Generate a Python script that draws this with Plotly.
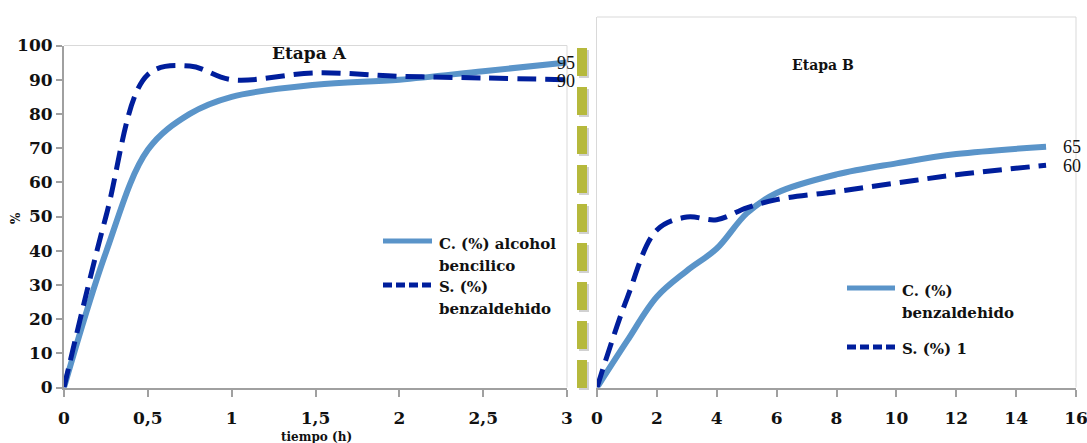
import plotly.graph_objects as go

# ---------------- data ----------------
t_A = [0, 0.25, 0.5, 0.75, 1, 1.5, 2, 2.5, 3]
conv_A = [0, 39.5, 69.5, 80, 85, 88.5, 90, 92.5, 95]
sel_A = [0, 50, 91.5, 94, 90, 92, 91, 90.5, 90]

t_B = [0, 1, 2, 3, 4, 5, 6, 8, 10, 12, 15]
conv_B = [0, 12.5, 24.5, 31.5, 37.5, 47, 52.5, 57.5, 60.5, 63, 65]
sel_B = [0, 24, 42.5, 46, 45.3, 48.5, 50.7, 52.9, 55.2, 57.4, 60]

xticks_A = [0, 0.5, 1, 1.5, 2, 2.5, 3]
xticks_B = [0, 2, 4, 6, 8, 10, 12, 14, 16]
yticks_A = [0, 10, 20, 30, 40, 50, 60, 70, 80, 90, 100]

name_CA = "C. (%) alcohol bencilico"
name_SA = "S. (%) benzaldehido"
name_CB = "C. (%) benzaldehido"
name_SB = "S. (%) 1"

# ---------------- styling ----------------
W, H = 1087, 443
C_COL = "#5a94c9"
S_COL = "#001e9c"
AX_COL = "#a0a0a0"
BORDER = "#d9d9d9"
OLIVE = "#b6b93c"
SERIF = "DejaVu Serif"


def px(x):
    return x / W


def py(y):
    return 1 - y / H


fig = go.Figure()

fig.add_trace(go.Scatter(x=t_A, y=conv_A, mode="lines", name=name_CA,
                         line=dict(color=C_COL, width=6, shape="spline", smoothing=1),
                         xaxis="x", yaxis="y", showlegend=False))
fig.add_trace(go.Scatter(x=t_A, y=sel_A, mode="lines", name=name_SA,
                         line=dict(color=S_COL, width=5, dash="19px,9px", shape="spline", smoothing=1),
                         xaxis="x", yaxis="y", showlegend=False))
fig.add_trace(go.Scatter(x=t_B, y=conv_B, mode="lines", name=name_CB,
                         line=dict(color=C_COL, width=6, shape="spline", smoothing=1),
                         xaxis="x2", yaxis="y2", showlegend=False))
fig.add_trace(go.Scatter(x=t_B, y=sel_B, mode="lines", name=name_SB,
                         line=dict(color=S_COL, width=5, dash="19px,9px", shape="spline", smoothing=1),
                         xaxis="x2", yaxis="y2", showlegend=False))

tickfont = dict(family=SERIF, size=17, color="#111111", weight="bold")
ydom = [py(387.5), py(45.5)]
ydom2 = [py(387.5), py(17)]

fig.update_layout(
    width=W, height=H,
    margin=dict(l=0, r=0, t=0, b=0, pad=0, autoexpand=False),
    paper_bgcolor="white", plot_bgcolor="white",
    separators=",.",
    showlegend=False,
    xaxis=dict(domain=[px(64), px(567)], range=[0, 3], tickvals=xticks_A,
               ticks="outside", ticklen=7, tickwidth=2, tickcolor=AX_COL,
               showline=True, linecolor=AX_COL, linewidth=2,
               showgrid=False, zeroline=False, tickfont=tickfont,
               ticklabelstandoff=7, ticklabeloverflow="allow",
               anchor="y", automargin=False),
    yaxis=dict(domain=ydom, range=[0, 100], tickvals=yticks_A,
               ticks="outside", ticklen=6, tickwidth=2, tickcolor=AX_COL,
               showline=True, linecolor=AX_COL, linewidth=2,
               showgrid=False, zeroline=False, tickfont=tickfont, anchor="x",
               ticklabeloverflow="allow", automargin=False),
    xaxis2=dict(domain=[px(597), px(1076)], range=[0, 16], tickvals=xticks_B,
                ticks="outside", ticklen=7, tickwidth=2, tickcolor=AX_COL,
                showline=True, linecolor=AX_COL, linewidth=2,
                showgrid=False, zeroline=False, tickfont=tickfont,
                ticklabelstandoff=7, ticklabeloverflow="allow",
                anchor="y2", automargin=False),
    yaxis2=dict(domain=ydom2, range=[0, 100], showticklabels=False, ticks="",
                showline=True, linecolor=BORDER, linewidth=1,
                showgrid=False, zeroline=False, anchor="x2", automargin=False),
)

shapes = []
# light frame borders
shapes += [
    dict(type="line", xref="paper", yref="paper", x0=px(64), x1=px(567), y0=py(45.5), y1=py(45.5),
         line=dict(color=BORDER, width=1)),
    dict(type="line", xref="paper", yref="paper", x0=px(567), x1=px(567), y0=py(45.5), y1=py(387.5),
         line=dict(color=BORDER, width=1)),
    dict(type="line", xref="paper", yref="paper", x0=px(597), x1=px(1076), y0=py(17), y1=py(17),
         line=dict(color=BORDER, width=1)),
    dict(type="line", xref="paper", yref="paper", x0=px(1076), x1=px(1076), y0=py(17), y1=py(387.5),
         line=dict(color=BORDER, width=1)),
]
# olive dashed separator with soft shadow
shapes += [
    dict(type="line", xref="paper", yref="paper", x0=px(584), x1=px(584), y0=py(50), y1=py(390),
         line=dict(color="rgba(0,0,0,0.18)", width=10, dash="28px,11px")),
    dict(type="line", xref="paper", yref="paper", x0=px(582), x1=px(582), y0=py(48), y1=py(388),
         line=dict(color=OLIVE, width=10, dash="28px,11px")),
]
# legend samples
shapes += [
    dict(type="line", xref="paper", yref="paper", x0=px(383), x1=px(432), y0=py(241), y1=py(241),
         line=dict(color=C_COL, width=5)),
    dict(type="line", xref="paper", yref="paper", x0=px(383), x1=px(432), y0=py(285), y1=py(285),
         line=dict(color=S_COL, width=5, dash="9px,4px")),
    dict(type="line", xref="paper", yref="paper", x0=px(847), x1=px(895), y0=py(288), y1=py(288),
         line=dict(color=C_COL, width=5)),
    dict(type="line", xref="paper", yref="paper", x0=px(847), x1=px(895), y0=py(347), y1=py(347),
         line=dict(color=S_COL, width=5, dash="9px,4px")),
]
fig.update_layout(shapes=shapes)

annots = []


def txt(text, x, y, size, bold=True, xanchor="center", angle=0, family=SERIF):
    annots.append(dict(text=text, xref="paper", yref="paper", x=px(x), y=py(y),
                       xanchor=xanchor, yanchor="middle", showarrow=False, textangle=angle,
                       font=dict(family=family, size=size, color="#111111",
                                 weight="bold" if bold else "normal")))


txt("Etapa A", 309, 53, 17)
txt("Etapa B", 823, 65, 14)
txt("%", 16, 218, 12, angle=-90)
txt("tiempo (h)", 316, 437, 12)

# legend texts
txt("C. (%) alcohol", 437, 244, 15, xanchor="left")
txt("bencilico", 437, 266, 15, xanchor="left")
txt("S. (%)", 437, 287, 15, xanchor="left")
txt("benzaldehido", 437, 309, 15, xanchor="left")
txt("C. (%)", 900, 291, 15, xanchor="left")
txt("benzaldehido", 900, 313, 15, xanchor="left")
txt("S. (%) 1", 900, 349, 15, xanchor="left")

# data labels at series ends
lab = dict(family="Liberation Serif", size=18, color="#111111")
annots += [
    dict(text=f"{conv_A[-1]:g}", xref="x", yref="y", x=t_A[-1], y=conv_A[-1], xshift=-1, yshift=0,
         showarrow=False, font=lab),
    dict(text=f"{sel_A[-1]:g}", xref="x", yref="y", x=t_A[-1], y=sel_A[-1], xshift=-1, yshift=-1,
         showarrow=False, font=lab),
    dict(text=f"{conv_B[-1]:g}", xref="x2", yref="y2", x=t_B[-1], y=conv_B[-1], xshift=26,
         showarrow=False, font=lab),
    dict(text=f"{sel_B[-1]:g}", xref="x2", yref="y2", x=t_B[-1], y=sel_B[-1], xshift=26, yshift=-1,
         showarrow=False, font=lab),
]
fig.update_layout(annotations=annots)

fig.write_html("out.html")
